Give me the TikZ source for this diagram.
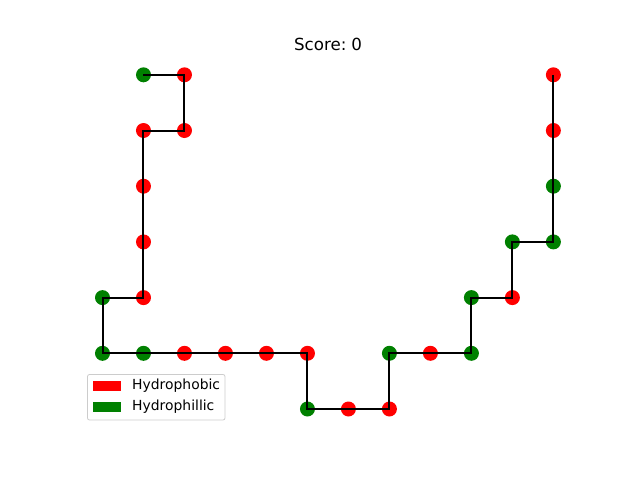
\documentclass[tikz,border=0pt]{standalone}
\usepackage{fontspec}
\setmainfont{DejaVu Sans}
\definecolor{hphob}{HTML}{FF0000}
\definecolor{hphil}{HTML}{008000}
\definecolor{legedge}{HTML}{CCCCCC}
\begin{document}
\begin{tikzpicture}[x=1pt,y=-1pt,
  res/.style={circle,inner sep=0pt,minimum size=15pt,draw=none},
  rb/.style={res,fill=hphob},
  gb/.style={res,fill=hphil},
  bond/.style={line width=2pt,black},
  legtext/.style={anchor=west,inner sep=0pt,font=\fontsize{13.9}{16}\selectfont}]
\useasboundingbox (0,0) rectangle (640,480);
\node[font=\fontsize{16.67}{20}\selectfont] (title) at (328,44) {Score:\hspace{0.3em}0};
\begin{scope}[shift={(102.5,74.8)},x=40.99pt,y=-55.7pt]
\node[gb] (n1) at (1,0) {};
\node[rb] (n2) at (2,0) {};
\node[rb] (n3) at (2,1) {};
\node[rb] (n4) at (1,1) {};
\node[rb] (n5) at (1,2) {};
\node[rb] (n6) at (1,3) {};
\node[rb] (n7) at (1,4) {};
\node[gb] (n8) at (0,4) {};
\node[gb] (n9) at (0,5) {};
\node[gb] (n10) at (1,5) {};
\node[rb] (n11) at (2,5) {};
\node[rb] (n12) at (3,5) {};
\node[rb] (n13) at (4,5) {};
\node[rb] (n14) at (5,5) {};
\node[gb] (n15) at (5,6) {};
\node[rb] (n16) at (6,6) {};
\node[rb] (n17) at (7,6) {};
\node[gb] (n18) at (7,5) {};
\node[rb] (n19) at (8,5) {};
\node[gb] (n20) at (9,5) {};
\node[gb] (n21) at (9,4) {};
\node[rb] (n22) at (10,4) {};
\node[gb] (n23) at (10,3) {};
\node[gb] (n24) at (11,3) {};
\node[gb] (n25) at (11,2) {};
\node[rb] (n26) at (11,1) {};
\node[rb] (n27) at (11,0) {};
\draw[bond,line join=miter] (n1.center)
  \foreach \k in {2,...,27} { -- (n\k.center) };
\end{scope}
\node[draw=legedge,fill=white,fill opacity=0.8,rounded corners=2pt,line width=0.8pt,
  minimum width=137.5pt,minimum height=45.5pt,inner sep=0pt] (legend) at (156.25,397.25) {};
\node[fill=hphob,minimum width=28pt,minimum height=10pt,inner sep=0pt] (pr) at (107,386) {};
\node[fill=hphil,minimum width=28pt,minimum height=10pt,inner sep=0pt] (pg) at (107,407) {};
\node[legtext] (tr) at (132,386) {Hydrophobic};
\node[legtext] (tg) at (132,407) {Hydrophillic};
\end{tikzpicture}
\end{document}
